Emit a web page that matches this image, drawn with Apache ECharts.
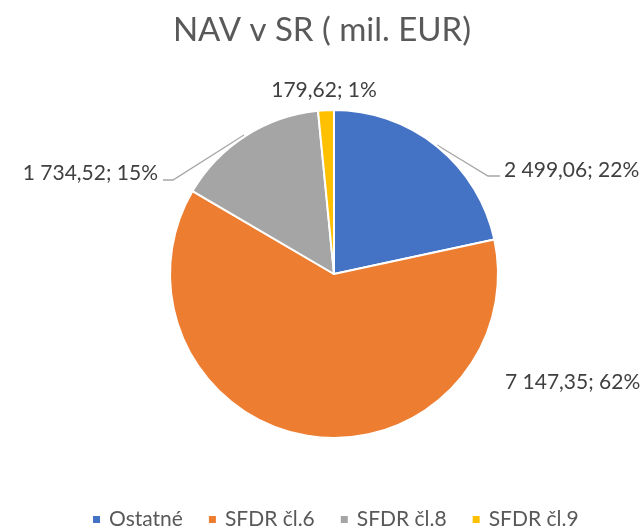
<!DOCTYPE html>
<html>
<head>
<meta charset="utf-8">
<script src="https://cdn.jsdelivr.net/npm/echarts@6/dist/echarts.min.js"></script>
<style>
    html, body { margin: 0; padding: 0; background: #fff; }
    #chart { width: 644px; height: 529px; }
</style>
</head>
<body>
<div id="chart"></div>
<script>
    // data
    var categories = ['Ostatné', 'SFDR čl.6', 'SFDR čl.8', 'SFDR čl.9'];
    var values = [2499.06, 7147.35, 1734.52, 179.62];
    var pctLabels = ['22%', '62%', '15%', '1%'];
    var colors = ['#4472C4', '#ED7D31', '#A5A5A5', '#FFC000'];

    // where Excel put the data labels (and their leader lines)
    var labelSpots = [
        { x: 504, y: 170, align: 'left', line: [[437, 145], [488, 176], [500, 176]] },
        { x: 505, y: 382, align: 'left', line: null },
        { x: 158, y: 173, align: 'right', line: [[244, 135], [173, 180], [163, 180]] },
        { x: 324, y: 90, align: 'center', line: null }
    ];

    function fmtNum(v) {
        var parts = v.toFixed(2).split('.');
        var intPart = parts[0].replace(/\B(?=(\d{3})+(?!\d))/g, ' ');
        return intPart + ',' + parts[1];
    }

    var chart = echarts.init(document.getElementById('chart'));
    chart.setOption({
        animation: false,
        color: colors,
        title: {
            text: 'NAV v SR ( mil. EUR)',
            left: 'center',
            top: 9,
            textStyle: {
                fontFamily: 'Lato',
                fontSize: 33,
                fontWeight: 'normal',
                color: '#595959'
            }
        },
        legend: {
            top: 509,
            left: 91,
            padding: 0,
            icon: 'rect',
            itemWidth: 9,
            itemHeight: 9,
            itemGap: 24,
            textStyle: {
                fontFamily: 'Lato',
                fontSize: 21,
                color: '#595959',
                padding: [0, 0, 0, 3]
            },
            data: categories
        },
        series: [{
            type: 'pie',
            center: [334, 274],
            radius: 164,
            startAngle: 90,
            clockwise: true,
            itemStyle: { borderColor: '#fff', borderWidth: 2 },
            label: {
                show: true,
                position: 'outside',
                fontFamily: 'Lato',
                fontSize: 21,
                color: '#404040',
                formatter: function (p) {
                    return fmtNum(p.value) + '; ' + pctLabels[p.dataIndex];
                }
            },
            labelLine: {
                show: true,
                lineStyle: { color: '#A6A6A6', width: 1.3 }
            },
            labelLayout: function (p) {
                var s = labelSpots[p.dataIndex];
                var out = { x: s.x, y: s.y, align: s.align, verticalAlign: 'middle' };
                if (s.line) out.labelLinePoints = s.line;
                return out;
            },
            data: categories.map(function (c, i) {
                return {
                    name: c,
                    value: values[i],
                    labelLine: { show: !!labelSpots[i].line }
                };
            })
        }]
    });
</script>
</body>
</html>
